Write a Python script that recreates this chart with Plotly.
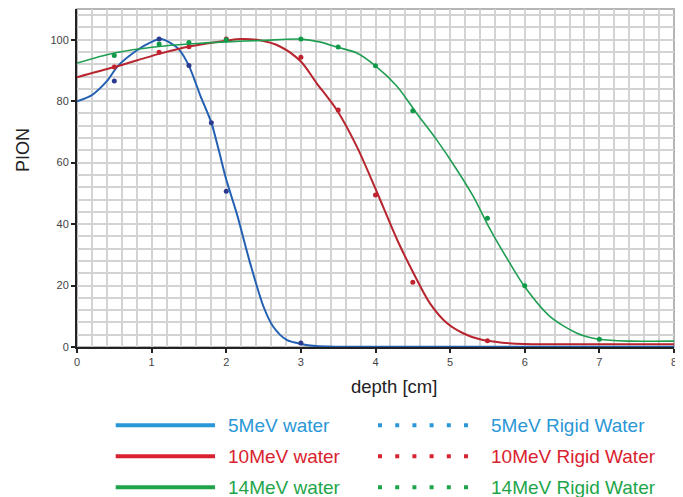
import plotly.graph_objects as go

# 5MeV water (fitted curve)
x_5w = [0, 0.2, 0.4, 0.55, 0.8, 1.0, 1.12, 1.25, 1.36, 1.5, 1.65, 1.8, 1.9, 2.0,
        2.14, 2.32, 2.5, 2.63, 2.81, 3.0, 3.2, 3.5, 4, 5, 6, 7, 8]
y_5w = [80, 82, 86.5, 91.5, 96.5, 99.3, 100.2, 99, 97, 91.5, 82, 73, 64, 54.5,
        43.5, 27.3, 13.1, 6.6, 2.3, 1.0, 0.3, 0.1, 0.1, 0.1, 0.1, 0.1, 0.1]

# 10MeV water
x_10w = [0, 0.5, 1.1, 1.5, 2.0, 2.2, 2.45, 2.72, 3.0, 3.21, 3.48, 3.75, 4.0,
         4.29, 4.51, 4.73, 4.96, 5.18, 5.4, 5.7, 6.0, 7, 8]
y_10w = [87.8, 91.1, 95.4, 97.8, 99.7, 100.2, 99.8, 97.8, 92.9, 85.9, 77.2, 65.2, 51.5,
         34.9, 24, 14.2, 7.7, 4.4, 2.5, 1.4, 1.0, 0.9, 0.9]

# 14MeV water
x_14w = [0, 0.5, 1.1, 1.5, 2.0, 2.5, 3.0, 3.25, 3.5, 3.75, 4.0, 4.29, 4.55, 4.82,
         5.09, 5.31, 5.54, 5.77, 6.0, 6.34, 6.7, 7.0, 7.41, 8]
y_14w = [92.4, 95.7, 97.8, 98.6, 99.3, 99.8, 100.2, 99.3, 97.5, 95.7, 91.5, 84.8, 76.1, 67.4,
         57.7, 49, 38.1, 28.5, 19.6, 9.9, 4.5, 2.5, 1.9, 1.9]

# Rigid Water (points)
x_5r = [0.5, 1.1, 1.5, 1.8, 2.0, 3.0]
y_5r = [86.6, 100.2, 91.6, 73, 50.7, 1.3]
x_10r = [0.5, 1.1, 1.5, 2.0, 3.0, 3.5, 4.0, 4.5, 5.5]
y_10r = [91.1, 95.9, 97.7, 100.2, 94.3, 77.1, 49.5, 21.1, 2.0]
x_14r = [0.5, 1.1, 1.5, 2.0, 3.0, 3.5, 4.0, 4.5, 5.5, 6.0, 7.0]
y_14r = [94.9, 98.6, 99.1, 100, 100.2, 97.6, 91.5, 76.9, 41.9, 19.9, 2.5]

x_ticks = [0, 1, 2, 3, 4, 5, 6, 7, 8]
y_ticks = [0, 20, 40, 60, 80, 100]

FONT = "Liberation Sans, Arial, sans-serif"
GRID = "#d3d3d3"

# name, curve x/y, point x/y, curve colour, point colour, legend colour, line width
series = [
    ("5MeV", x_5w, y_5w, x_5r, y_5r, "#2360b3", "#2b3a8f", "#2a97d6", 2),
    ("10MeV", x_10w, y_10w, x_10r, y_10r, "#b7252f", "#c0232f", "#d9222f", 2),
    ("14MeV", x_14w, y_14w, x_14r, y_14r, "#1f9e52", "#0f9a48", "#1ea54a", 1.6),
]

fig = go.Figure()
for name, xw, yw, xr, yr, c_line, c_pt, c_leg, lw in series:
    fig.add_trace(go.Scatter(x=xw, y=yw, mode="lines", name=name + " water",
                             line=dict(color=c_line, width=lw, shape="spline", smoothing=0.8)))
    fig.add_trace(go.Scatter(x=xr, y=yr, mode="markers", name=name + " Rigid Water",
                             marker=dict(color=c_pt, size=5)))

# legend drawn by hand under the plot (long line samples)
row_y = [-0.2317, -0.3234, -0.4151]
for s, ry in zip(series, row_y):
    name, c_leg = s[0], s[7]
    fig.add_shape(type="line", xref="paper", yref="paper", x0=0.0648, x1=0.2312, y0=ry, y1=ry,
                  line=dict(color=c_leg, width=4))
    fig.add_shape(type="line", xref="paper", yref="paper", x0=0.5042, x1=0.6549, y0=ry, y1=ry,
                  line=dict(color=c_leg, width=4, dash="4px,13.2px"))
    fig.add_annotation(xref="paper", yref="paper", x=0.2496, y=ry, text=name + " water",
                       showarrow=False, xanchor="left", yanchor="middle",
                       font=dict(family=FONT, size=19, color=c_leg))
    fig.add_annotation(xref="paper", yref="paper", x=0.6901, y=ry, text=name + " Rigid Water",
                       showarrow=False, xanchor="left", yanchor="middle",
                       font=dict(family=FONT, size=19, color=c_leg))

# axis titles (placed off-centre like the original)
fig.add_annotation(xref="paper", yref="paper", x=0.531, y=-0.1175, text="depth [cm]",
                   showarrow=False, xanchor="center", yanchor="middle",
                   font=dict(family=FONT, size=18.5, color="#222"))
fig.add_annotation(xref="paper", yref="paper", x=-0.0905, y=0.583, text="PION", textangle=-90,
                   showarrow=False, xanchor="center", yanchor="middle",
                   font=dict(family=FONT, size=18, color="#222"))

# grey frame top/right
fig.add_shape(type="rect", xref="paper", yref="paper", x0=0, x1=1, y0=0, y1=1,
              line=dict(color="#b5b5b5", width=2), layer="below")

# page has an 8px body margin, so the figure is 8px smaller and offset
fig.update_layout(
    width=675, height=489,
    margin=dict(l=69, r=9, t=1, b=150),
    paper_bgcolor="white", plot_bgcolor="white",
    showlegend=False,
    font=dict(family=FONT, color="#444"),
)
fig.update_xaxes(
    range=[0, 8], tickvals=x_ticks, ticktext=[str(v) for v in x_ticks],
    showgrid=True, gridcolor=GRID, gridwidth=2,
    minor=dict(dtick=0.2, showgrid=True, gridcolor=GRID, gridwidth=2),
    showline=True, linecolor="#222", linewidth=2, zeroline=False,
    ticks="outside", ticklen=4, tickcolor="#222", tickwidth=1.5,
    tickfont=dict(size=11, color="#444"),
)
fig.update_yaxes(
    range=[0, 110], tickvals=y_ticks, ticktext=[str(v) for v in y_ticks],
    showgrid=True, gridcolor=GRID, gridwidth=2,
    minor=dict(dtick=4, showgrid=True, gridcolor=GRID, gridwidth=2),
    showline=True, linecolor="#222", linewidth=2, zeroline=False,
    ticks="outside", ticklen=4, tickcolor="#222", tickwidth=1.5,
    tickfont=dict(size=11, color="#444"),
)

fig.write_html("out.html")
